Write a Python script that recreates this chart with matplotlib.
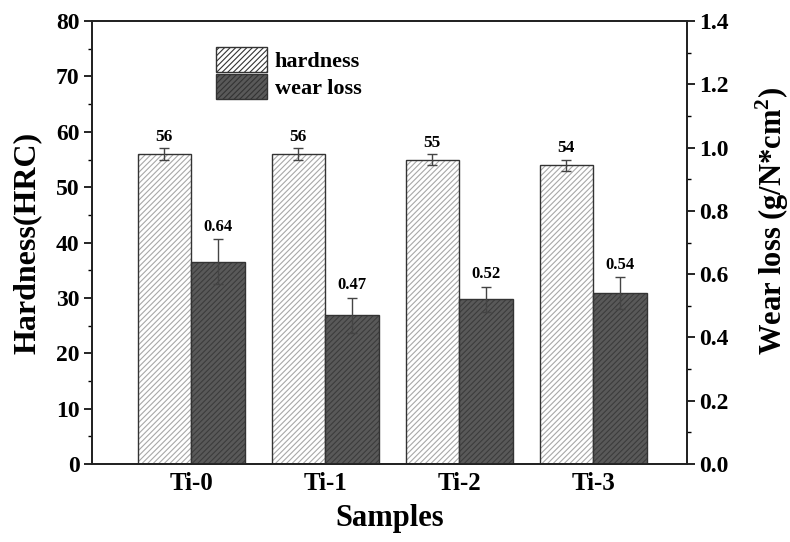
import numpy as np
import matplotlib.pyplot as plt

plt.rcParams['font.family'] = ['Liberation Serif', 'DejaVu Serif']
plt.rcParams['font.weight'] = 'bold'
plt.rcParams['mathtext.fontset'] = 'custom'
plt.rcParams['mathtext.bf'] = 'Liberation Serif:bold'
plt.rcParams['hatch.linewidth'] = 0.8

samples = ["Ti-0", "Ti-1", "Ti-2", "Ti-3"]
hardness = [56, 56, 55, 54]
hardness_err = [1.0, 1.0, 1.0, 1.0]
wear_loss = [0.64, 0.47, 0.52, 0.54]
wear_err = [0.07, 0.055, 0.04, 0.05]
hardness_labels = ["56", "56", "55", "54"]
wear_labels = ["0.64", "0.47", "0.52", "0.54"]

x = np.arange(len(samples))
w = 0.40

fig = plt.figure(figsize=(7.9, 5.42), dpi=100)
ax = fig.add_axes([0.1165, 0.144, 0.753, 0.817])
ax2 = ax.twinx()

ekw = dict(ecolor='#444444', elinewidth=1.0, capsize=3.5, capthick=1.0)

# hatch layer first (light lines), then outline + error bars on top
ax.bar(x - w / 2, hardness, w, color='white', edgecolor='#a8a8a8',
       hatch='//////', linewidth=0)
b1 = ax.bar(x - w / 2, hardness, w, yerr=hardness_err, fill=False,
            edgecolor='#333333', linewidth=1.0, error_kw=ekw)
ax2.bar(x + w / 2, wear_loss, w, color='#595959', edgecolor='#3c3c3c',
        hatch='//////', linewidth=0)
b2 = ax2.bar(x + w / 2, wear_loss, w, yerr=wear_err, fill=False,
             edgecolor='#333333', linewidth=1.0, error_kw=ekw)

for xi, h, e, t in zip(x, hardness, hardness_err, hardness_labels):
    ax.text(xi - w / 2, h + e + 0.6, t, ha='center', va='bottom', fontsize=12.5, fontweight='bold')
for xi, v, e, t in zip(x, wear_loss, wear_err, wear_labels):
    ax2.text(xi + w / 2, v + e + 0.015, t, ha='center', va='bottom', fontsize=12, fontweight='bold')

ax.set_xlim(-0.74, 3.70)
ax.set_ylim(0, 80)
ax2.set_ylim(0, 1.4)
ax.set_yticks(np.arange(0, 81, 10))
ax.set_yticks(np.arange(0, 81, 5), minor=True)
ax2.set_yticks(np.arange(0, 1.41, 0.2))
ax2.set_yticks(np.arange(0, 1.41, 0.1), minor=True)
ax2.set_yticklabels([f"{v:.1f}" for v in np.arange(0, 1.41, 0.2)])

ax.set_xticks(x)
ax.set_xticklabels(samples)
ax.tick_params(axis='x', length=0, labelsize=18, pad=6)
ax.tick_params(axis='y', which='major', length=6, width=1.2, labelsize=17, pad=3)
ax.tick_params(axis='y', which='minor', length=3, width=1.0)
ax2.tick_params(axis='y', which='major', length=6, width=1.2, labelsize=17, pad=3)
ax2.tick_params(axis='y', which='minor', length=3, width=1.0)

for a in (ax, ax2):
    for s in a.spines.values():
        s.set_linewidth(1.3)
        s.set_color('#222222')

ax.set_xlabel("Samples", fontsize=22, fontweight='bold', labelpad=6)
ax.set_ylabel("Hardness(HRC)", fontsize=23, fontweight='bold')
ax2.set_ylabel("Wear loss (g/N*cm$^\\mathbf{2}$)", fontsize=22, fontweight='bold')
ax.yaxis.set_label_coords(-0.084, 0.5)
ax2.yaxis.set_label_coords(1.112, 0.55)

fig.legend([b1, b2], ['hardness', 'wear loss'], loc='upper left',
           bbox_to_anchor=(0.262, 0.93), frameon=False, fontsize=16,
           handlelength=2.3, handleheight=1.4, handletextpad=0.35, labelspacing=0.05,
           borderaxespad=0)

# legend patches need the hatch look too
leg = fig.legends[0]
for patch, fc in zip(leg.get_patches(), ['white', '#595959']):
    patch.set_facecolor(fc)
    patch.set_fill(True)
    patch.set_hatch('//////')
    patch.set_edgecolor('#333333')

fig.savefig("out.png", dpi=100)
